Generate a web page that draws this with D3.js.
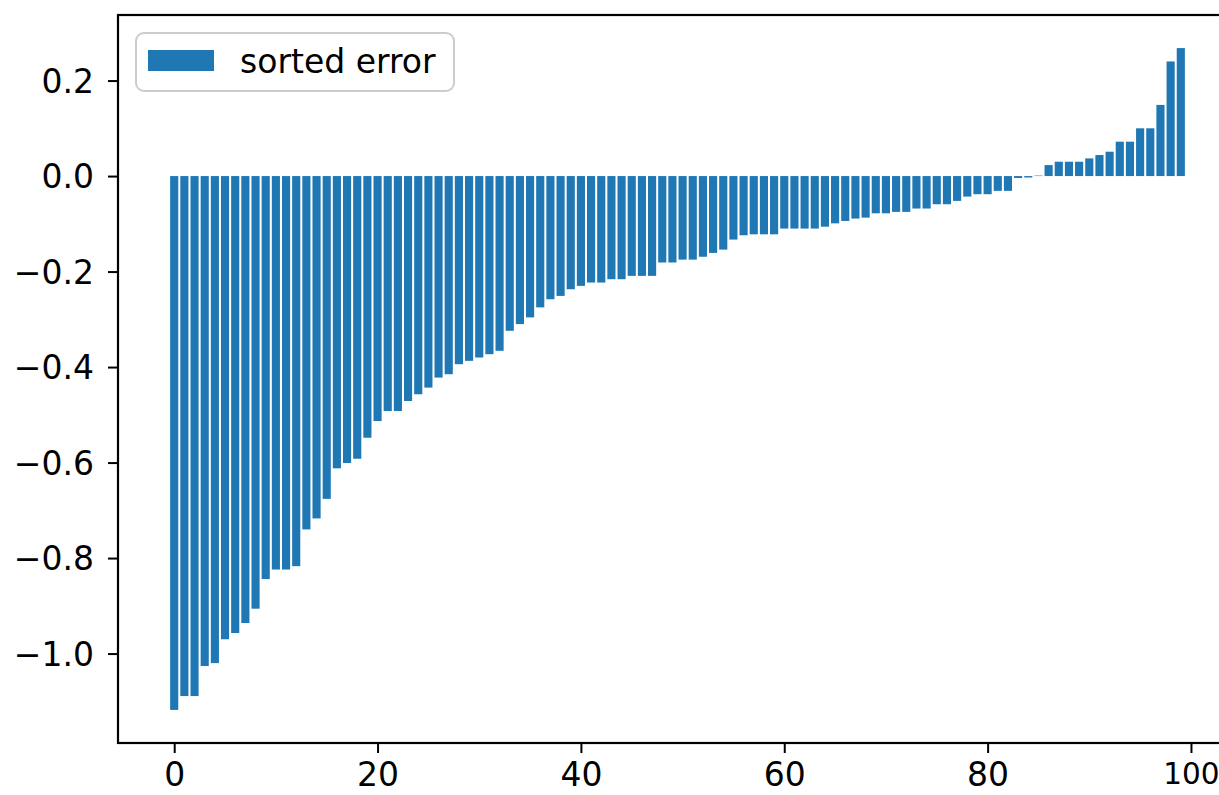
<!DOCTYPE html>
<html>
<head>
<meta charset="utf-8">
<script src="https://cdn.jsdelivr.net/npm/d3@7"></script>
<style>
  html, body { margin: 0; padding: 0; background: #fff; }
  svg { display: block; }
  text { font-family: "DejaVu Sans", sans-serif; fill: #000; }
</style>
</head>
<body>
<svg id="chart" width="1219" height="795"></svg>
<script>
// Sorted prediction error, one value per sample (index 0..99)
const sampleIndex = d3.range(100);
const sortedError = [
  -1.118, -1.089, -1.089, -1.026, -1.020, -0.970, -0.957, -0.936, -0.906, -0.844,
  -0.824, -0.824, -0.817, -0.740, -0.717, -0.676, -0.612, -0.601, -0.592, -0.548,
  -0.513, -0.492, -0.492, -0.471, -0.457, -0.443, -0.422, -0.415, -0.394, -0.387,
  -0.380, -0.373, -0.366, -0.324, -0.310, -0.296, -0.275, -0.258, -0.251, -0.237,
  -0.230, -0.223, -0.223, -0.216, -0.216, -0.209, -0.209, -0.209, -0.181, -0.181,
  -0.175, -0.175, -0.169, -0.161, -0.154, -0.133, -0.124, -0.122, -0.122, -0.122,
  -0.110, -0.110, -0.110, -0.110, -0.106, -0.099, -0.094, -0.089, -0.087, -0.078,
  -0.078, -0.075, -0.075, -0.068, -0.068, -0.059, -0.059, -0.052, -0.043, -0.038,
  -0.038, -0.031, -0.031, -0.004, -0.003, 0.001, 0.023, 0.030, 0.030, 0.030,
  0.037, 0.044, 0.051, 0.072, 0.072, 0.100, 0.100, 0.149, 0.240, 0.268
];
const xTickValues = [0, 20, 40, 60, 80, 100];
const yTickValues = [-1.0, -0.8, -0.6, -0.4, -0.2, 0.0, 0.2];
const legendLabel = "sorted error";

const barColor = "#1f77b4";
const fontSize = 33;
const svg = d3.select("#chart");

const plot = { left: 118, top: 15, right: 1236, bottom: 743 };
const barWidth = 0.8;

// 5% margins around the data, like the default autoscaling of a bar plot
const xMin = -barWidth / 2, xMax = sampleIndex.length - 1 + barWidth / 2;
const xPad = (xMax - xMin) * 0.05;
const yMin = d3.min(sortedError), yMax = d3.max(sortedError);
const yPad = (yMax - yMin) * 0.05;

const x = d3.scaleLinear()
  .domain([xMin - xPad, xMax + xPad])
  .range([plot.left + 1.4, plot.right - 0.4]);
const y = d3.scaleLinear()
  .domain([yMin - yPad, yMax + yPad])
  .range([plot.bottom, plot.top]);

// bars
svg.append("g")
  .selectAll("rect")
  .data(sampleIndex)
  .join("rect")
  .attr("x", i => x(i - barWidth / 2))
  .attr("width", i => x(i + barWidth / 2) - x(i - barWidth / 2))
  .attr("y", i => y(Math.max(0, sortedError[i])))
  .attr("height", i => Math.abs(y(sortedError[i]) - y(0)))
  .attr("fill", barColor);

// axes
const fmt = d3.format(".1f");
const xAxis = svg.append("g")
  .attr("transform", `translate(0,${plot.bottom})`)
  .call(d3.axisBottom(x).tickValues(xTickValues).tickSize(10).tickPadding(10).tickFormat(d3.format("d")));
const yAxis = svg.append("g")
  .attr("transform", `translate(${plot.left},0)`)
  .call(d3.axisLeft(y).tickValues(yTickValues).tickSize(10).tickPadding(14).tickFormat(fmt));

[xAxis, yAxis].forEach(g => {
  g.select(".domain").remove();
  g.selectAll(".tick line").attr("stroke", "#000").attr("stroke-width", 2);
  g.selectAll(".tick text").attr("font-size", fontSize).attr("font-family", "DejaVu Sans");
});
yAxis.selectAll(".tick text").attr("dy", "0.36em");
// the last x label sits against the right edge of the page
xAxis.selectAll(".tick text").filter(d => d === 100).attr("font-size", 29.5);

// frame
svg.append("rect")
  .attr("x", plot.left)
  .attr("y", plot.top)
  .attr("width", plot.right - plot.left)
  .attr("height", plot.bottom - plot.top)
  .attr("fill", "none")
  .attr("stroke", "#000")
  .attr("stroke-width", 2.2);

// legend
const legend = svg.append("g");
legend.append("rect")
  .attr("x", 136).attr("y", 33)
  .attr("width", 318).attr("height", 58)
  .attr("rx", 8).attr("ry", 8)
  .attr("fill", "#fff").attr("fill-opacity", 0.8)
  .attr("stroke", "#cccccc").attr("stroke-width", 2);
legend.append("rect")
  .attr("x", 148).attr("y", 50)
  .attr("width", 66).attr("height", 21)
  .attr("fill", barColor);
legend.append("text")
  .attr("x", 240).attr("y", 73)
  .attr("font-size", fontSize)
  .text(legendLabel);
</script>
</body>
</html>
